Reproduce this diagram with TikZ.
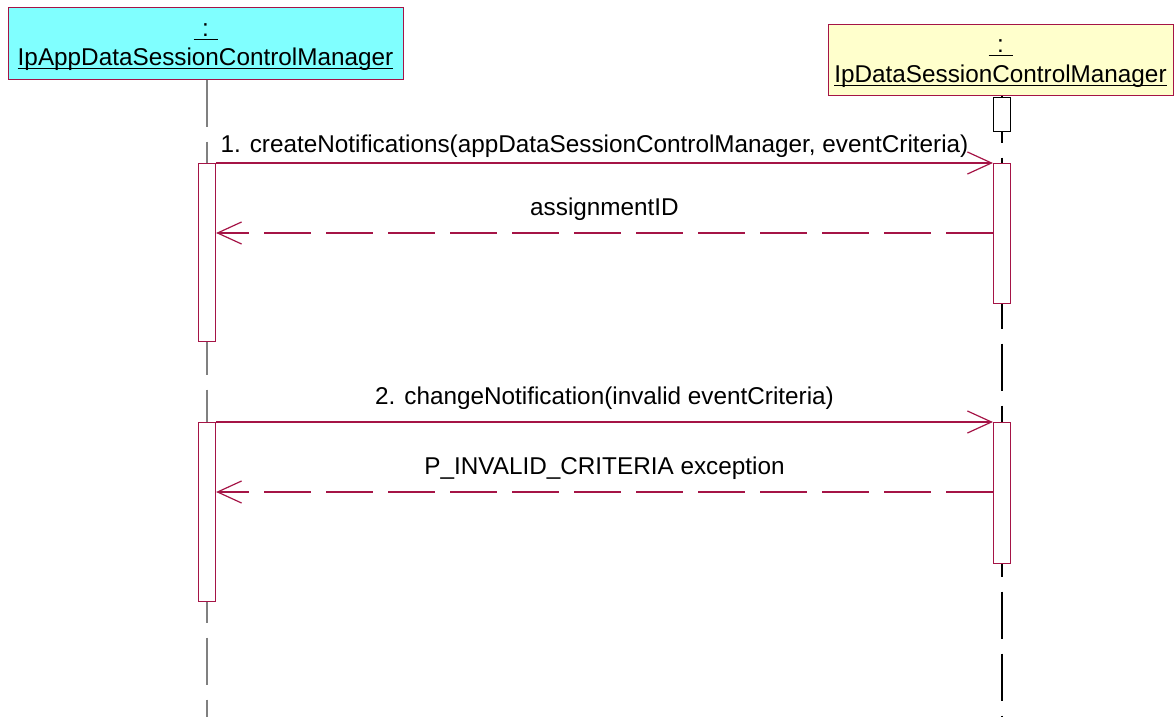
\documentclass[tikz,border=0pt]{standalone}
\usepackage{fontspec}
\setmainfont{Liberation Sans}
\usetikzlibrary{arrows.meta}
\definecolor{msgred}{RGB}{165,20,70}
\definecolor{objcyan}{RGB}{128,255,255}
\definecolor{objyellow}{RGB}{255,255,204}
\newcommand{\ulname}[1]{\setbox0\hbox{#1}\rlap{\copy0}\rule[-3.5pt]{\wd0}{1.3pt}}

\begin{document}
\begin{tikzpicture}[x=1pt,y=-1pt,
    every node/.style={font=\fontsize{24.3}{29}\selectfont},
    obj/.style={draw=msgred, line width=1pt, minimum height=71pt, inner sep=0pt},
    objtext/.style={anchor=base, inner sep=0pt},
    life/.style={dash pattern=on 47pt off 15pt, line width=1.5pt},
    act/.style={draw=msgred, fill=white, line width=1.2pt, minimum width=17pt, anchor=north, inner sep=0pt},
    call/.style={draw=msgred, line width=1.2pt, -{Straight Barb[length=24pt,width=22pt]}},
    reply/.style={call, dash pattern=on 47pt off 15pt}]
            \useasboundingbox (0,0) rectangle (1175,717);
            \node[obj, fill=objcyan, minimum width=395pt] (app) at (205.5,43.5) {};
            \node[objtext] (appColon) at ([yshift=-29pt]app.north) {\ulname{\makebox[24pt]{:}}};
            \node[objtext] (appName) at ([yshift=-58pt]app.north) {\ulname{IpAppDataSessionControlManager}};
            \node[obj, fill=objyellow, minimum width=345pt, minimum height=70pt] (mgr) at (1000.5,60) {};
            \node[objtext] (mgrColon) at ([yshift=-28pt]mgr.north) {\ulname{\makebox[24pt]{:}}};
            \node[objtext] (mgrName) at ([yshift=-58pt]mgr.north) {\ulname{IpDataSessionControlManager}};
            \coordinate (appEnd) at (207,717);
            \coordinate (mgrEnd) at (1002,717);
            \draw[life, gray] (appEnd |- app.south) -- (appEnd);
            \draw[life] (mgrEnd |- mgr.south) -- (mgrEnd);
            \node[act, draw=black, minimum height=34pt] (mgrAct0) at (1002,97) {};
            \node[act, minimum height=178pt] (appAct1) at (207,163) {};
            \node[act, minimum height=140pt] (mgrAct1) at (1002,163) {};
            \node[act, minimum height=179pt] (appAct2) at (207,422) {};
            \node[act, minimum height=141pt] (mgrAct2) at (1002,422) {};
            \draw[call] (appAct1.north east) -- (mgrAct1.north west)
                node[midway, anchor=base, yshift=11pt, xshift=-10pt] {1. createNotifications(appDataSessionControlManager, eventCriteria)};
            \draw[reply] ([yshift=-70pt]mgrAct1.north west) -- ([yshift=-70pt]appAct1.north east)
                node[midway, anchor=base, yshift=18pt] {assignmentID};
            \draw[call] (appAct2.north east) -- (mgrAct2.north west)
                node[midway, anchor=base, yshift=18pt] {2. changeNotification(invalid eventCriteria)};
            \draw[reply] ([yshift=-70pt]mgrAct2.north west) -- ([yshift=-70pt]appAct2.north east)
                node[midway, anchor=base, yshift=18pt] {P\_INVALID\_CRITERIA exception};
\end{tikzpicture}
\end{document}
